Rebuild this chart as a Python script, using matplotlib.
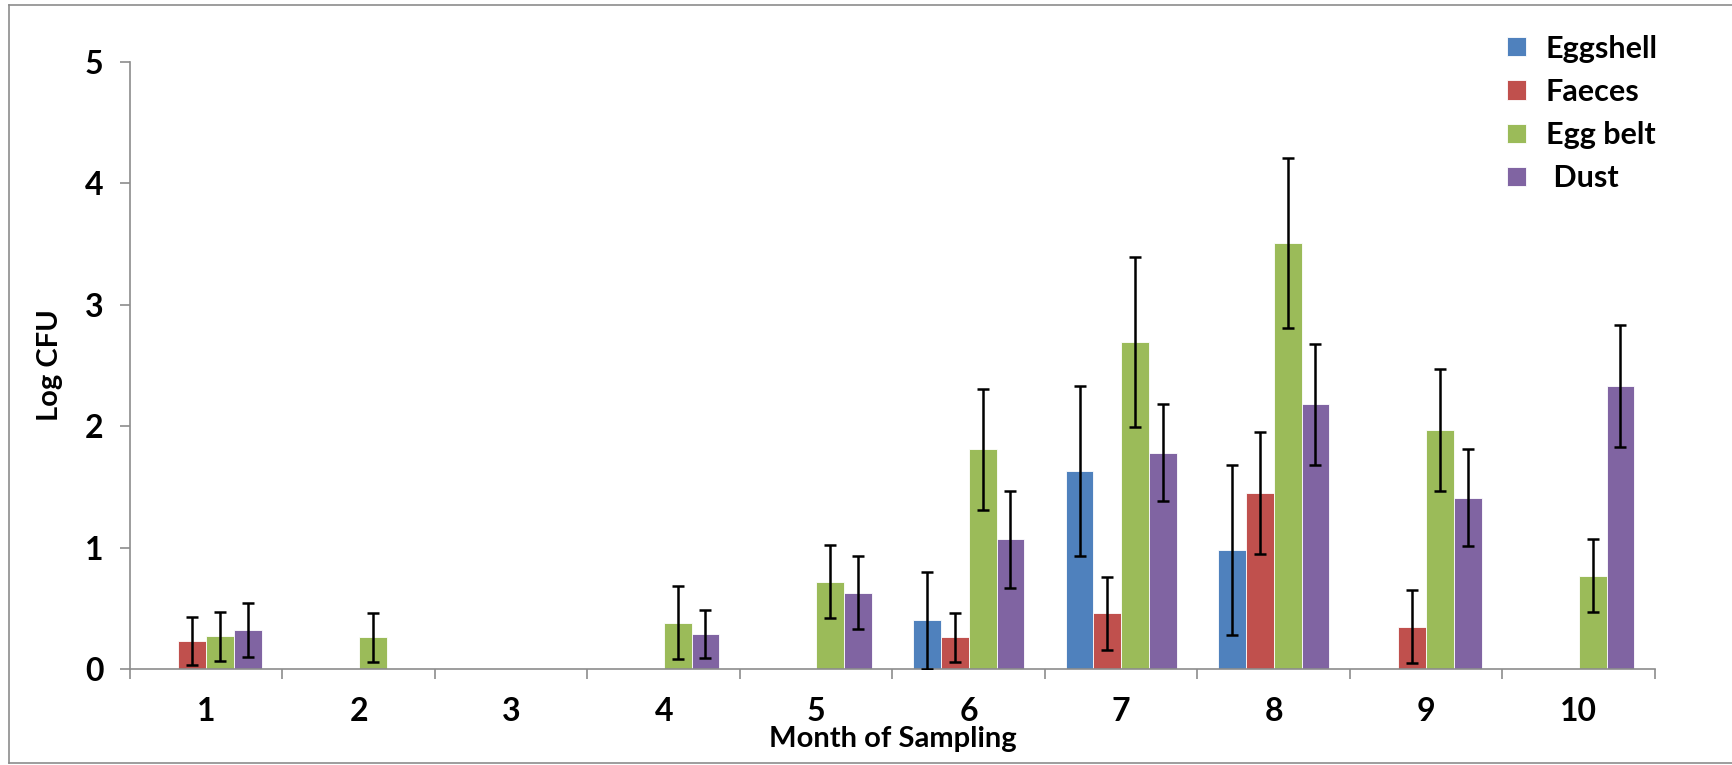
import numpy as np
import matplotlib.pyplot as plt
from matplotlib.lines import Line2D

plt.rcParams['font.family'] = ['Lato', 'DejaVu Sans']
plt.rcParams['font.weight'] = 'bold'

months = [1, 2, 3, 4, 5, 6, 7, 8, 9, 10]
series = ["Eggshell", "Faeces", "Egg belt", " Dust"]
colors = ["#4F81BD", "#C0504D", "#9BBB59", "#8064A2"]

eggshell = [0, 0, 0, 0, 0, 0.40, 1.63, 0.98, 0, 0]
faeces = [0.23, 0, 0, 0, 0, 0.26, 0.46, 1.45, 0.35, 0]
egg_belt = [0.27, 0.26, 0, 0.38, 0.72, 1.81, 2.69, 3.51, 1.97, 0.77]
dust = [0.32, 0, 0, 0.29, 0.63, 1.07, 1.78, 2.18, 1.41, 2.33]

eggshell_err = [0, 0, 0, 0, 0, 0.40, 0.70, 0.70, 0, 0]
faeces_err = [0.20, 0, 0, 0, 0, 0.20, 0.30, 0.50, 0.30, 0]
egg_belt_err = [0.20, 0.20, 0, 0.30, 0.30, 0.50, 0.70, 0.70, 0.50, 0.30]
dust_err = [0.22, 0, 0, 0.20, 0.30, 0.40, 0.40, 0.50, 0.40, 0.50]

values = [eggshell, faeces, egg_belt, dust]
errors = [eggshell_err, faeces_err, egg_belt_err, dust_err]

fig = plt.figure(figsize=(17.33, 7.65), dpi=100)
ax = fig.add_axes([130 / 1733, 1 - 669 / 765, (1655 - 130) / 1733, (669 - 62) / 765])

x = np.arange(1, 11)
w = 0.182
for i, (vals, errs) in enumerate(zip(values, errors)):
    pos = x + (i - 1.5) * w
    vals = np.array(vals)
    errs = np.array(errs)
    ax.bar(pos, vals, width=w, color=colors[i], edgecolor="white", linewidth=0.6,
           label=series[i], zorder=2)
    m = vals > 0
    ax.errorbar(pos[m], vals[m], yerr=errs[m], fmt="none", ecolor="black",
                elinewidth=1.8, capsize=4.5, capthick=1.8, zorder=3)

ax.set_xlim(0.5, 10.5)
ax.set_ylim(0, 5)
ax.set_yticks(range(0, 6))
ax.set_xticks(x)
ax.set_xticks(np.arange(0.5, 11, 1), minor=True)
ax.tick_params(axis="x", which="major", length=0, pad=20, labelsize=23)
ax.tick_params(axis="x", which="minor", length=7, width=1.2, color="#8c8c8c", direction="out")
ax.tick_params(axis="y", length=7, width=1.2, color="#8c8c8c", pad=12, labelsize=23)
for s in ["top", "right"]:
    ax.spines[s].set_visible(False)
for s in ["left", "bottom"]:
    ax.spines[s].set_color("#8c8c8c")
    ax.spines[s].set_linewidth(1.2)

ax.set_xlabel("Month of Sampling", fontsize=21, fontweight="bold", labelpad=0)
ax.set_ylabel("Log CFU", fontsize=21, fontweight="bold", labelpad=16)

fig.legend(loc="upper left", bbox_to_anchor=(1480 / 1733, 1 - 7 / 765), frameon=False,
           handlelength=0.6, handleheight=0.6, handletextpad=0.65,
           labelspacing=0.5, prop={"weight": "bold", "size": 22})

fig.add_artist(Line2D([9 / 1733, 9 / 1733], [1 - 5 / 765, 1 - 763 / 765], color="#8c8c8c", lw=1.2))
fig.add_artist(Line2D([9 / 1733, 1], [1 - 5 / 765, 1 - 5 / 765], color="#8c8c8c", lw=1.2))
fig.add_artist(Line2D([9 / 1733, 1], [1 - 763 / 765, 1 - 763 / 765], color="#8c8c8c", lw=1.2))

fig.savefig("out.png", dpi=100)
